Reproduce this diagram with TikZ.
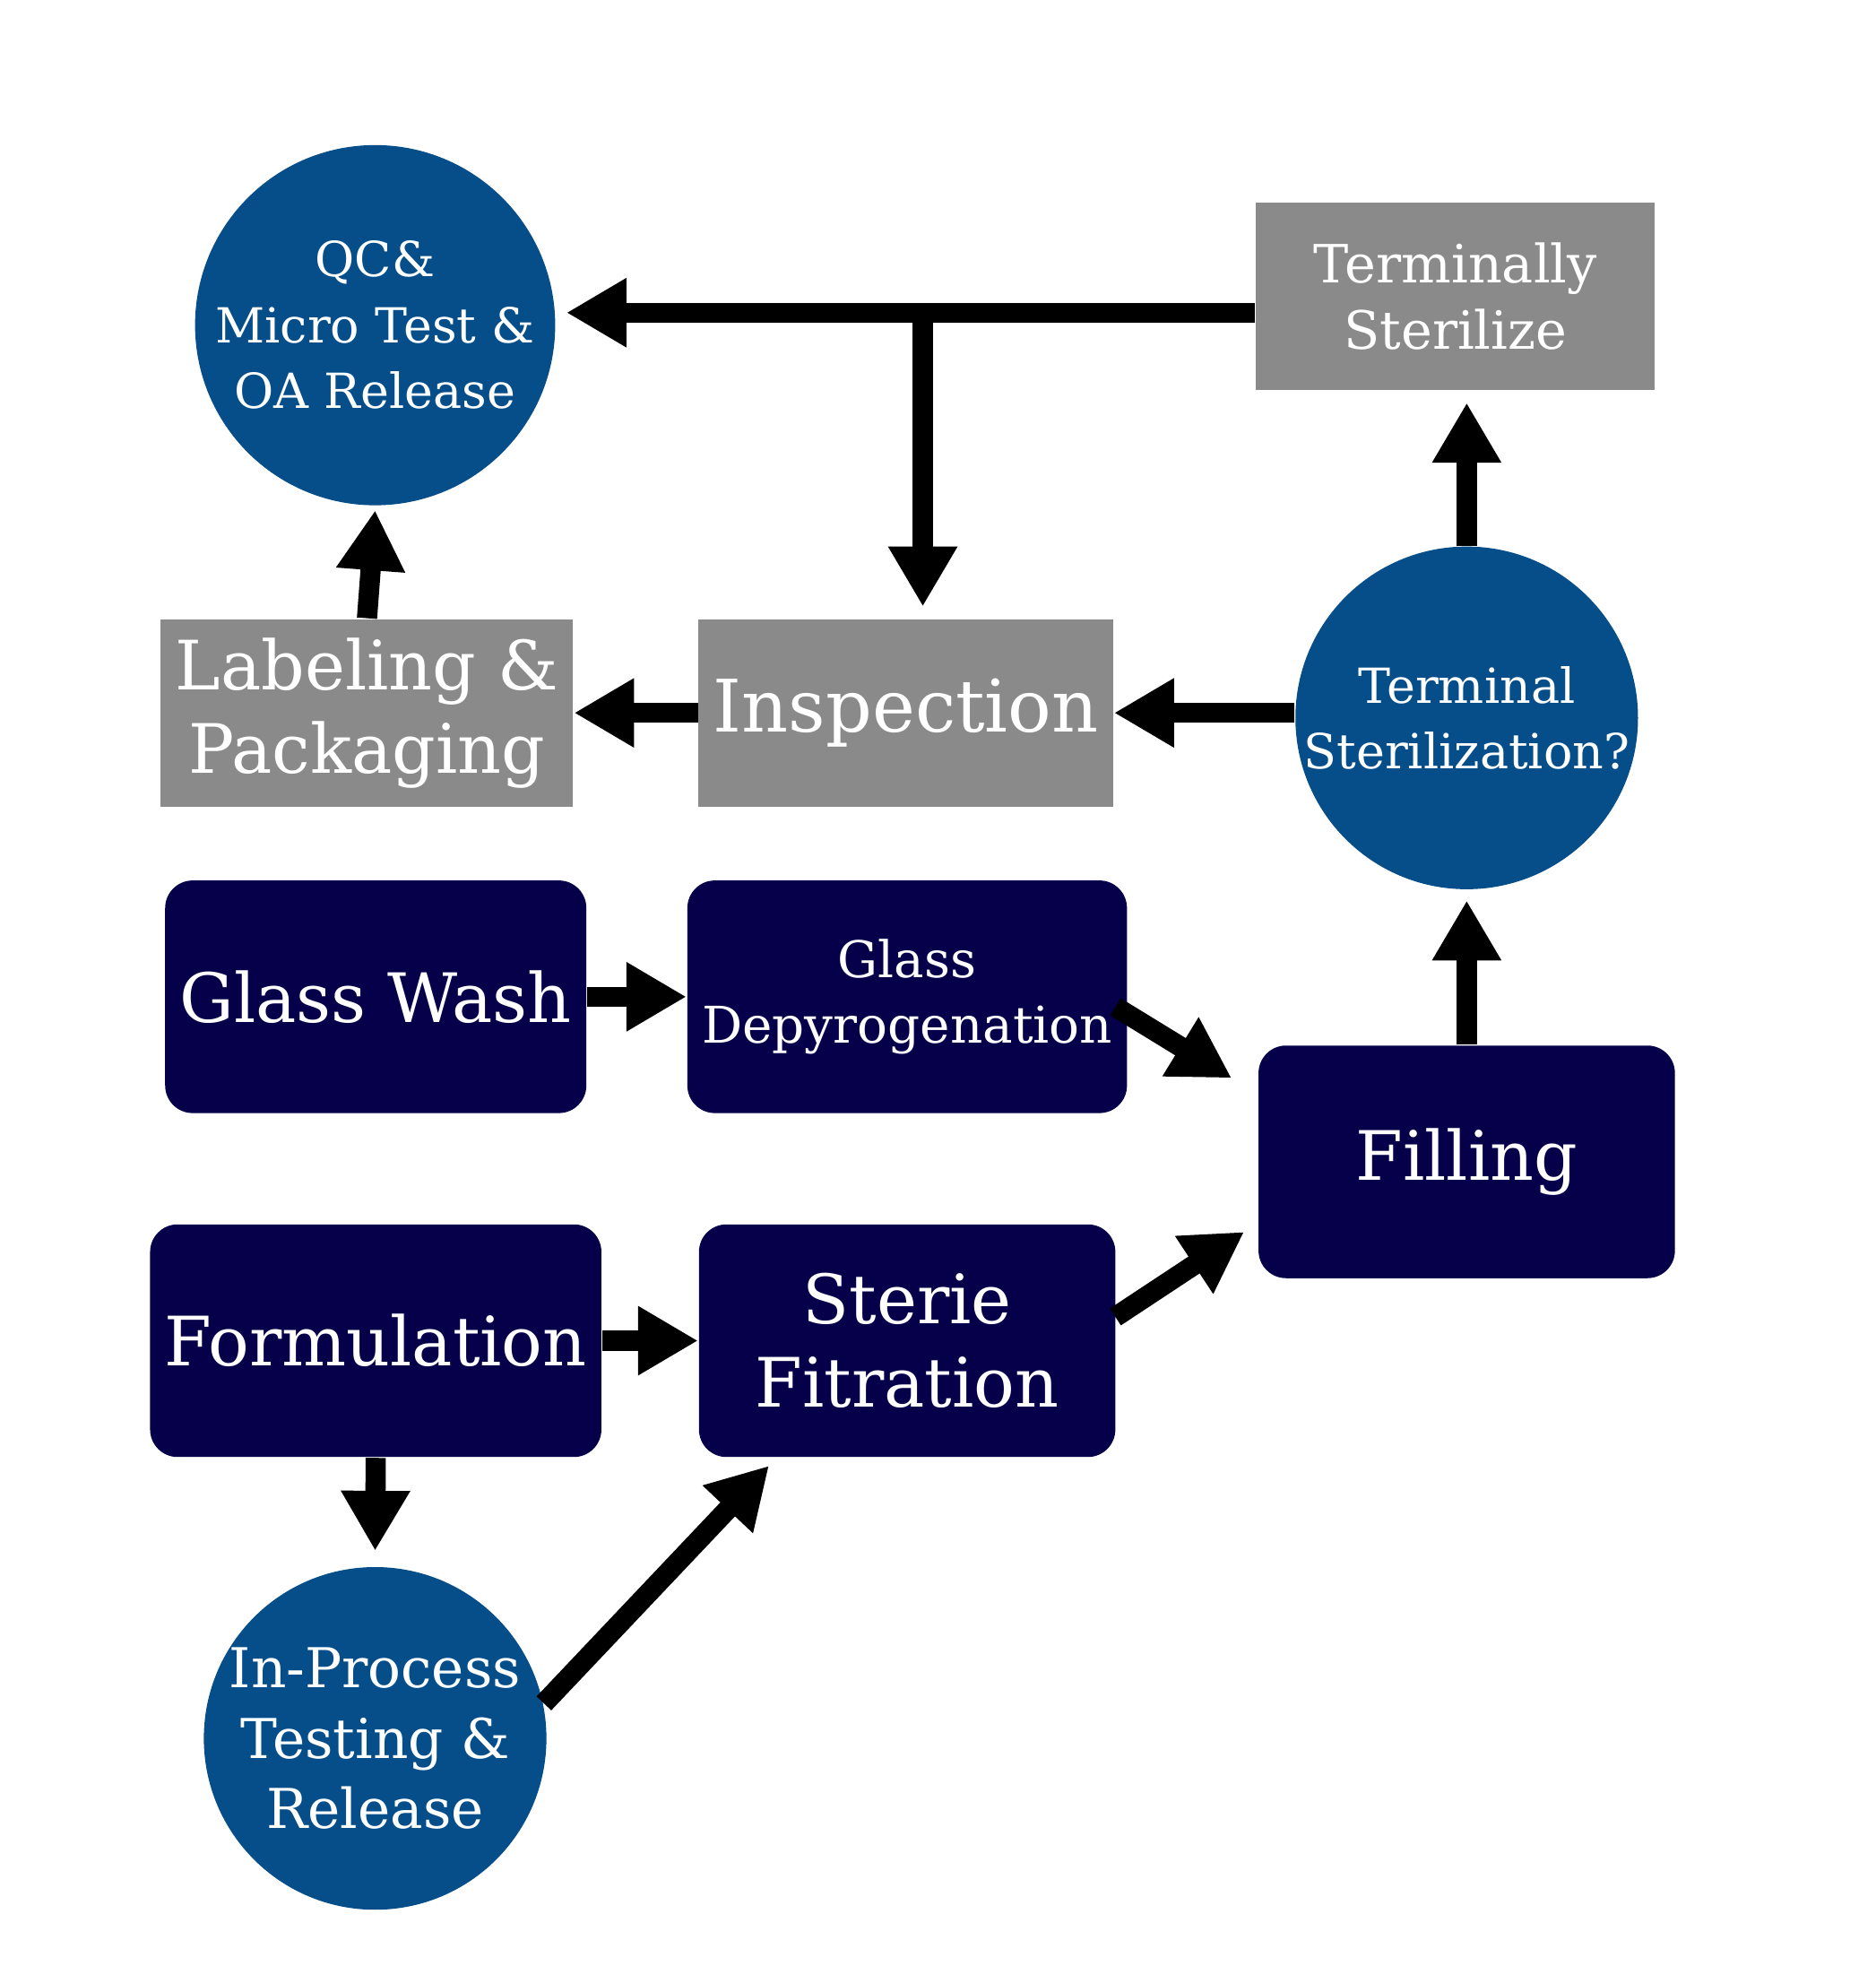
\documentclass[tikz,border=0pt]{standalone}
\usepackage{fontspec}
\setmainfont{DejaVu Serif}
\usetikzlibrary{arrows.meta}
\usetikzlibrary{positioning}
\definecolor{navy}{HTML}{06004A}
\definecolor{steel}{HTML}{064E8A}
\definecolor{slate}{HTML}{8A8A8A}
\tikzset{
    grey box/.style={
        draw=none,
        fill=slate,
        text=white,
        minimum width=3.19cm,
        minimum height=1.5cm,
        align=center
    },
    navy box/.style={
        fill=navy,
        text=white,
        rounded corners=0.22cm,
        minimum width=3.33cm,
        minimum height=1.86cm,
        align=center
    },
    disc/.style={
        circle,
        fill=steel,
        text=white,
        minimum size=2.74cm,
        inner sep=0pt,
        align=center
    },
    flow/.style={
        line width=4.6pt,
        -{Triangle[length=0.48cm, width=0.52cm]}
    }
}
\begin{document}
\begin{tikzpicture}
  \useasboundingbox (0,0) rectangle (15,-15.72);
  % Circles
  \node[disc, font=\fontsize{11}{15}\selectfont] (qc) at (3.00,-2.60) {QC\&\\Micro Test \&\\OA Release};
  \node[disc, font=\fontsize{11}{15}\selectfont] (tsq) at (11.73,-5.74) {Terminal\\Sterilization?};
  \node[disc, font=\fontsize{12.5}{16}\selectfont] (ipt) at (3.00,-13.90) {In-Process\\Testing \&\\Release};

  % Grey boxes
  \node[grey box, font=\fontsize{12}{15}\selectfont] (term) at (11.64,-2.37) {Terminally\\Sterilize};
  \node[grey box, font=\fontsize{15.5}{19}\selectfont] (lab) at (2.935,-5.70) {Labeling \&\\Packaging};
  \node[grey box, font=\fontsize{16.5}{20}\selectfont] (insp) at (7.245,-5.70) {Inspection};

  % Process boxes
  \node[navy box, font=\fontsize{15.5}{19}\selectfont] (wash) at (3.005,-7.97) {Glass Wash};
  \node[navy box, font=\fontsize{11.5}{15}\selectfont] (depy) at (7.255,-7.97) {Glass\\Depyrogenation};
  \node[navy box, font=\fontsize{15.5}{19}\selectfont] (fill) at (11.73,-9.29) {Filling};
  \node[navy box, font=\fontsize{15.5}{19}\selectfont] (form) at (3.005,-10.72) {Formulation};
  \node[navy box, font=\fontsize{15.5}{19}\selectfont] (ster) at (7.255,-10.72) {Sterie\\Fitration};

  % Upper loop
  \coordinate (tee) at (7.38,-2.50);
  \draw[flow] (term.west |- tee) -- (4.53,-2.50);
  \draw[flow] (tee) -- (7.38,-4.85);
  \draw[flow] (tsq.north) -- (11.73,-3.22);
  \draw[flow] (tsq.west |- 0,-5.70) -- (insp.east);
  \draw[flow] (insp.west) -- (lab.east);
  \draw[flow] (lab.north) -- (3.00,-4.08);

  % Lower flow
  \draw[flow] (wash.east) -- (depy.west);
  \draw[flow] (8.92,-8.05) -- (9.85,-8.62);
  \draw[flow] (fill.north) -- (11.73,-7.20);
  \draw[flow] (form.east) -- (ster.west);
  \draw[flow] (form.south) -- (3.00,-12.40);
  \draw[flow] (8.92,-10.53) -- (9.95,-9.85);
  \draw[flow] (4.35,-13.62) -- (6.15,-11.72);
\end{tikzpicture}
\end{document}
